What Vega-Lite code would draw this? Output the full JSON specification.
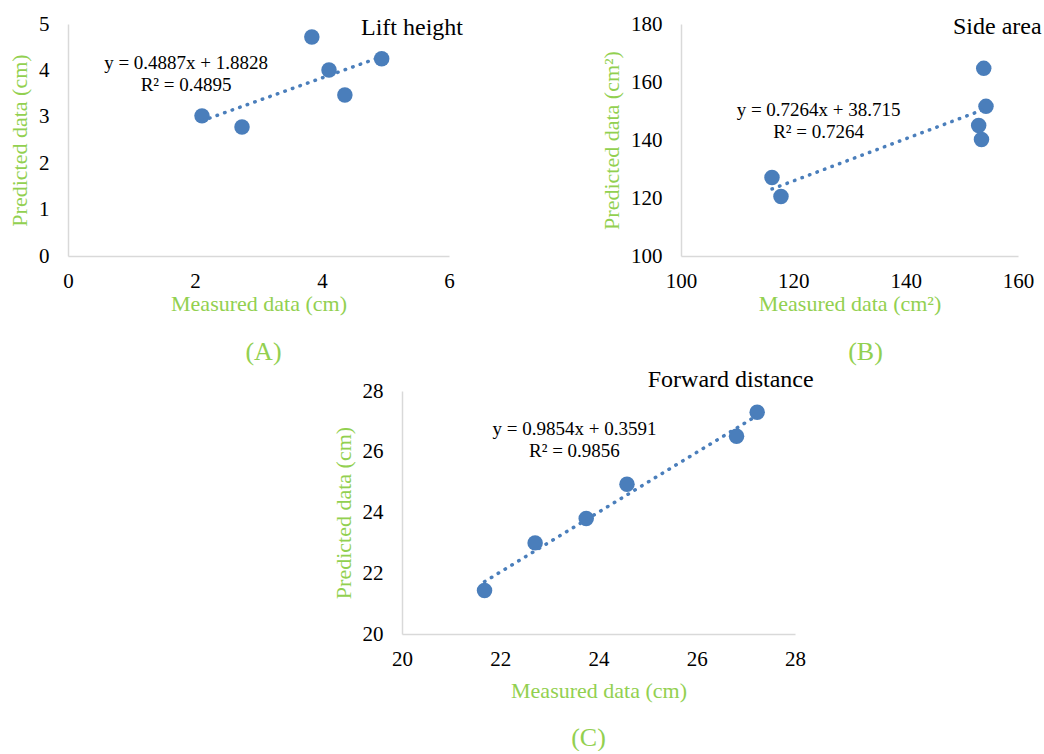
{
  "$schema": "https://vega.github.io/schema/vega-lite/v6.json",
  "background": "white",
  "padding": {"left": 8, "top": 13, "right": 0, "bottom": 0},
  "config": {
    "view": {"stroke": null},
    "font": "Liberation Serif",
    "axis": {
      "domainColor": "#d9d9d9",
      "domainWidth": 1.5,
      "ticks": false,
      "tickSize": 0,
      "grid": false,
      "labelFlush": false,
      "labelFont": "Liberation Serif",
      "labelFontSize": 21,
      "labelColor": "#000000",
      "titleFont": "Liberation Serif",
      "titleFontSize": 22,
      "titleFontWeight": "normal",
      "titleColor": "#92D050"
    },
    "axisX": {"labelPadding": 14, "titlePadding": 2, "format": "d"},
    "axisY": {"labelPadding": 19, "titlePadding": 7, "format": "d"},
    "title": {"font": "Liberation Serif", "fontSize": 26, "fontWeight": "normal", "color": "#92D050", "orient": "bottom", "frame": "group", "anchor": "middle"},
    "text": {"font": "Liberation Serif", "color": "#000000"}
  },
  "spacing": 2,
  "vconcat": [
    {
      "bounds": "flush",
      "spacing": 232,
      "hconcat": [
        {
          "width": 381,
          "height": 232,
          "title": {"text": "(A)", "offset": 25, "dx": 5},
          "layer": [
            {
              "data": {"values": [
                {"measured": 2.11, "predicted": 3.02},
                {"measured": 2.74, "predicted": 2.78},
                {"measured": 3.84, "predicted": 4.72},
                {"measured": 4.11, "predicted": 4.01},
                {"measured": 4.36, "predicted": 3.47},
                {"measured": 4.94, "predicted": 4.25}
              ]},
              "mark": {"type": "circle", "size": 240, "color": "#4A7EBB", "opacity": 1},
              "encoding": {
                "x": {"field": "measured", "type": "quantitative", "scale": {"domain": [0, 6], "nice": false, "zero": false}, "axis": {"values": [0, 2, 4, 6], "title": "Measured data (cm)"}},
                "y": {"field": "predicted", "type": "quantitative", "scale": {"domain": [0, 5], "nice": false, "zero": false}, "axis": {"values": [0, 1, 2, 3, 4, 5], "title": "Predicted data (cm)"}}
              }
            },
            {
              "data": {"values": [
                {"measured": 2.11, "predicted": 2.914},
                {"measured": 4.94, "predicted": 4.297}
              ]},
              "mark": {"type": "line", "color": "#4A7EBB", "strokeWidth": 3.5, "strokeDash": [0.5, 7.5], "strokeCap": "round"},
              "encoding": {
                "x": {"field": "measured", "type": "quantitative"},
                "y": {"field": "predicted", "type": "quantitative"}
              }
            },
            {
              "data": {"values": [{"label": "eq"}]},
              "mark": {"type": "text", "fontSize": 19, "align": "center", "baseline": "middle", "lineHeight": 22},
              "encoding": {
                "x": {"datum": 1.86},
                "y": {"datum": 4.15},
                "text": {"value": ["y = 0.4887x + 1.8828", "R² = 0.4895"]}
              }
            },
            {
              "data": {"values": [{"label": "name"}]},
              "mark": {"type": "text", "fontSize": 24, "align": "right", "baseline": "alphabetic"},
              "encoding": {
                "x": {"datum": 6.22},
                "y": {"datum": 4.76},
                "text": {"value": "Lift height"}
              }
            }
          ]
        },
        {
          "width": 337,
          "height": 232,
          "title": {"text": "(B)", "offset": 25, "dx": 16},
          "layer": [
            {
              "data": {"values": [
                {"measured": 116.2, "predicted": 127.1},
                {"measured": 117.8, "predicted": 120.5},
                {"measured": 153.9, "predicted": 164.7},
                {"measured": 154.3, "predicted": 151.6},
                {"measured": 153.0, "predicted": 145.0},
                {"measured": 153.5, "predicted": 140.2}
              ]},
              "mark": {"type": "circle", "size": 240, "color": "#4A7EBB", "opacity": 1},
              "encoding": {
                "x": {"field": "measured", "type": "quantitative", "scale": {"domain": [100, 160], "nice": false, "zero": false}, "axis": {"values": [100, 120, 140, 160], "title": "Measured data (cm²)"}},
                "y": {"field": "predicted", "type": "quantitative", "scale": {"domain": [100, 180], "nice": false, "zero": false}, "axis": {"values": [100, 120, 140, 160, 180], "title": "Predicted data (cm²)"}}
              }
            },
            {
              "data": {"values": [
                {"measured": 116.2, "predicted": 123.12},
                {"measured": 154.3, "predicted": 150.80}
              ]},
              "mark": {"type": "line", "color": "#4A7EBB", "strokeWidth": 3.5, "strokeDash": [0.5, 7.5], "strokeCap": "round"},
              "encoding": {
                "x": {"field": "measured", "type": "quantitative"},
                "y": {"field": "predicted", "type": "quantitative"}
              }
            },
            {
              "data": {"values": [{"label": "eq"}]},
              "mark": {"type": "text", "fontSize": 19, "align": "center", "baseline": "middle", "lineHeight": 22},
              "encoding": {
                "x": {"datum": 124.5},
                "y": {"datum": 150.4},
                "text": {"value": ["y = 0.7264x + 38.715", "R² = 0.7264"]}
              }
            },
            {
              "data": {"values": [{"label": "name"}]},
              "mark": {"type": "text", "fontSize": 24, "align": "right", "baseline": "alphabetic"},
              "encoding": {
                "x": {"datum": 164.2},
                "y": {"datum": 176.6},
                "text": {"value": "Side area"}
              }
            }
          ]
        }
      ]
    },
    {
      "bounds": "flush",
      "spacing": 34,
      "hconcat": [
        {
          "width": 300,
          "height": 243,
          "data": {"values": [{"label": "gap"}]},
          "mark": {"type": "text", "text": ""},
          "encoding": {}
        },
        {
          "width": 393,
          "height": 243,
          "title": {"text": "(C)", "offset": 24, "dx": -10},
          "layer": [
            {
              "data": {"values": [
                {"measured": 21.68, "predicted": 21.43},
                {"measured": 22.71, "predicted": 23.0},
                {"measured": 23.75, "predicted": 23.8},
                {"measured": 24.58, "predicted": 24.93},
                {"measured": 26.81, "predicted": 26.51},
                {"measured": 27.23, "predicted": 27.30}
              ]},
              "mark": {"type": "circle", "size": 240, "color": "#4A7EBB", "opacity": 1},
              "encoding": {
                "x": {"field": "measured", "type": "quantitative", "scale": {"domain": [20, 28], "nice": false, "zero": false}, "axis": {"values": [20, 22, 24, 26, 28], "title": "Measured data (cm)", "titlePadding": 11}},
                "y": {"field": "predicted", "type": "quantitative", "scale": {"domain": [20, 28], "nice": false, "zero": false}, "axis": {"values": [20, 22, 24, 26, 28], "title": "Predicted data (cm)"}}
              }
            },
            {
              "data": {"values": [
                {"measured": 21.68, "predicted": 21.723},
                {"measured": 27.23, "predicted": 27.192}
              ]},
              "mark": {"type": "line", "color": "#4A7EBB", "strokeWidth": 3.5, "strokeDash": [0.5, 7.5], "strokeCap": "round"},
              "encoding": {
                "x": {"field": "measured", "type": "quantitative"},
                "y": {"field": "predicted", "type": "quantitative"}
              }
            },
            {
              "data": {"values": [{"label": "eq"}]},
              "mark": {"type": "text", "fontSize": 19, "align": "center", "baseline": "middle", "lineHeight": 22},
              "encoding": {
                "x": {"datum": 23.51},
                "y": {"datum": 26.74},
                "text": {"value": ["y = 0.9854x + 0.3591", "R² = 0.9856"]}
              }
            },
            {
              "data": {"values": [{"label": "name"}]},
              "mark": {"type": "text", "fontSize": 24, "align": "right", "baseline": "alphabetic"},
              "encoding": {
                "x": {"datum": 28.38},
                "y": {"datum": 28.14},
                "text": {"value": "Forward distance"}
              }
            }
          ]
        }
      ]
    }
  ]
}
